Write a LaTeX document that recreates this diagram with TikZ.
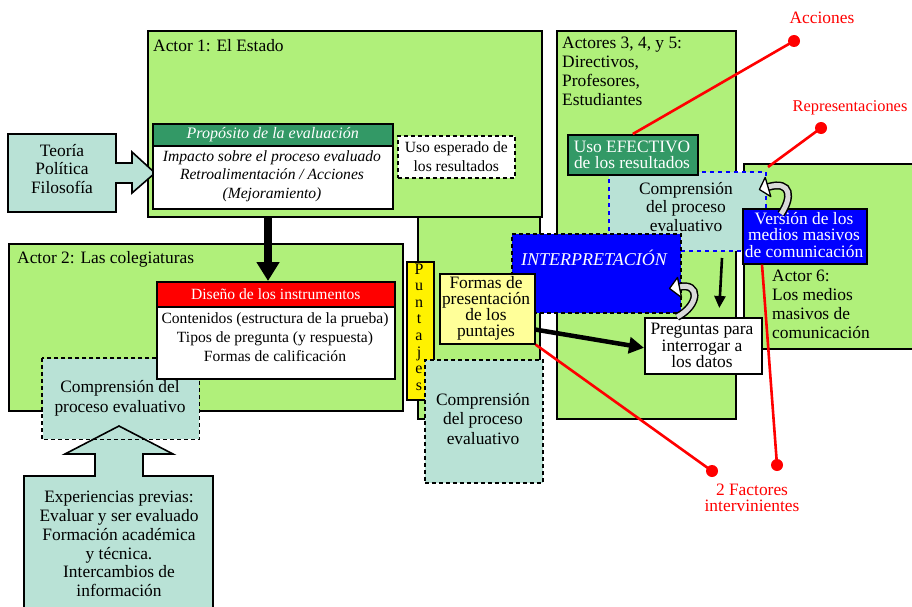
\documentclass[tikz,border=0pt]{standalone}
\usepackage{fontspec}
\setmainfont{Liberation Serif}
\usetikzlibrary{arrows.meta,calc}
\definecolor{cgreen}{RGB}{176,240,122}
\definecolor{cteal}{RGB}{185,226,214}
\definecolor{cdark}{RGB}{51,153,102}
\definecolor{cyel}{RGB}{255,255,153}
\definecolor{cred}{RGB}{255,0,0}
\definecolor{cblue}{RGB}{0,0,255}
\newcommand\fsa{\fontsize{17.4}{18.8}\selectfont}
\newcommand\fsb{\fontsize{17.4}{16.2}\selectfont}
\newcommand\fsc{\fontsize{15.6}{18.7}\selectfont}
\newcommand\fsd{\fontsize{17.4}{19.8}\selectfont}
\begin{document}
\begin{tikzpicture}[x=1pt,y=-1pt,
  box/.style={draw=black, line width=1.6pt, anchor=north west, inner sep=0pt},
  dashbox/.style={box, dash pattern=on 4pt off 3pt},
  txt/.style={align=center, inner sep=0pt, font=\fsa},
  txtb/.style={align=center, inner sep=0pt, font=\fsb},
  txtc/.style={align=center, inner sep=0pt, font=\fsc},
  txtd/.style={align=center, inner sep=0pt, font=\fsd},
  ltxt/.style={align=left, inner sep=0pt, font=\fsa, anchor=west},
  redline/.style={draw=cred, line width=2.6pt},
  reddot/.style={circle, fill=cred, minimum size=12pt, inner sep=0pt},
  redtxt/.style={align=center, inner sep=0pt, font=\fsb, text=cred},
  curlband/.style={line width=8pt, black},
  curlfill/.style={line width=5pt, gray!30},
  curlhead/.style={fill=white, draw=black, line width=1.3pt, line join=round}
]
\useasboundingbox (0,0) rectangle (912,607);
\clip (0,0) rectangle (912,607);
\fill[white] (0,0) rectangle (912,607);

% green actor boxes
\node[box, fill=cgreen, minimum width=122pt, minimum height=202pt] (gb) at (417,216) {};
\node[box, fill=cgreen, minimum width=394pt, minimum height=186pt] (a1) at (147,30) {};
\node[box, fill=cgreen, minimum width=394pt, minimum height=167pt] (a2) at (8,243) {};
\node[box, fill=cgreen, minimum width=179pt, minimum height=388pt] (a3) at (556,30) {};
\node[box, fill=cgreen, minimum width=200pt, minimum height=185pt] (a6) at (743,163) {};
\node[ltxt] (a1t) at (153,46) {Actor 1: El Estado};
\node[ltxt] (a2t) at (17,259) {Actor 2: Las colegiaturas};
\node[ltxt, anchor=north west, font=\fontsize{17.4}{19}\selectfont] (a3t) at (562,37) {Actores 3, 4, y 5:\\Directivos,\\Profesores,\\Estudiantes};
\node[ltxt, anchor=north west] (a6t) at (772,270) {Actor 6:\\Los medios\\masivos de\\comunicación};

% Teoria arrow
\filldraw[fill=cteal, draw=black, line width=1.6pt, line join=miter]
  (8,134) -- (116,134) -- (116,163) -- (132,163) -- (132,152) -- (155,173) -- (132,193)
  -- (132,183) -- (116,183) -- (116,212) -- (8,212) -- cycle;
\node[txt] (teo) at (62,169) {Teoría\\Política\\Filosofía};

% Proposito
\node[box, fill=white, minimum width=240pt, minimum height=85pt] (prop) at (152,123) {};
\node[box, fill=cdark, minimum width=240pt, minimum height=22pt] (proph) at (152,123) {};
\node[txtc, text=white, font=\fontsize{16}{18}\selectfont\itshape] at (proph.center) {Propósito de la evaluación};
\node[txtc, font=\fsc\itshape] (propb) at (272,176) {Impacto sobre el proceso evaluado\\Retroalimentación / Acciones\\(Mejoramiento)};
\node[dashbox, fill=white, minimum width=117pt, minimum height=42pt] (usoe) at (397,135) {};
\node[txtc] at (usoe.center) {Uso esperado de\\los resultados};

% big arrow
\coordinate (bigtop) at (268,216);
\draw[line width=8pt, -{Triangle[length=19pt,width=22pt]}] (bigtop) -- (bigtop |- 0,281);

% left comprension + experiencias
\node[box, draw=none, fill=cteal, minimum width=156pt, minimum height=80pt] (cl) at (42,358) {};
\filldraw[fill=cteal, draw=black, line width=1.6pt, line join=miter]
  (24,620) -- (24,476) -- (95,476) -- (95,454) -- (65,454) -- (119,426) -- (173,454)
  -- (143,454) -- (143,476) -- (213,476) -- (213,620) -- cycle;
\draw[line width=1.6pt, dash pattern=on 4pt off 3pt] (cl.north west) rectangle (cl.south east);
\node[txtd] (clt) at (120,398) {Comprensión del\\proceso evaluativo};
\node[txt] (exp) at (119,544) {Experiencias previas:\\Evaluar y ser evaluado\\Formación académica\\y técnica.\\Intercambios de\\información};

% Diseno
\node[box, fill=white, minimum width=238pt, minimum height=97pt] (dis) at (156,281) {};
\node[box, fill=cred, minimum width=238pt, minimum height=25pt] (dish) at (156,281) {};
\node[txtc, text=white] at (dish.center) {Diseño de los instrumentos};
\node[txtc] (disb) at (275,337) {Contenidos (estructura de la prueba)\\Tipos de pregunta (y respuesta)\\Formas de calificación};

% Puntajes + middle comprension
\node[box, fill=yellow, minimum width=27pt, minimum height=138pt] (pun) at (406,261) {};
\node[txt, font=\fontsize{16}{16.6}\selectfont] at (419,327) {P\\u\\n\\t\\a\\j\\e\\s};
\node[dashbox, fill=cteal, minimum width=118pt, minimum height=123pt] (cm) at (424,359) {};
\node[txtd] at (483,419) {Comprensión\\del proceso\\evaluativo};

% right comprension
\node[box, draw=cblue, dash pattern=on 4pt off 4pt, fill=cteal, minimum width=157pt, minimum height=79pt] (cr) at (608,171) {};
\node[txt] (crt) at (686,207) {Comprensión\\del proceso\\evaluativo};

% Uso efectivo
\node[box, fill=cdark, minimum width=130pt, minimum height=40pt] (uso) at (567,134) {};
\node[txtb, text=white] at (632,155) {Uso EFECTIVO\\de los resultados};

% Interpretacion
\node[dashbox, fill=cblue, minimum width=169pt, minimum height=79pt] (int) at (511,233) {};
\node[txt, text=white, font=\fontsize{18}{20}\selectfont\itshape] at (594,258) {INTERPRETACIÓN};

% Formas
\node[box, fill=cyel, minimum width=95pt, minimum height=70pt] (for) at (439,273) {};
\node[txtb] at (486,308.5) {Formas de\\presentación\\de los\\puntajes};

% Version
\node[box, fill=cblue, minimum width=124pt, minimum height=55pt] (ver) at (742,208) {};
\node[txtb, text=white] at (804,235) {Versión de los\\medios masivos\\de comunicación};

% Preguntas
\node[box, fill=white, minimum width=117pt, minimum height=56pt] (pre) at (644,317) {};
\node[txtb] at (702,345.5) {Preguntas para\\interrogar a\\los datos};

% black arrows
\draw[line width=4.5pt, -{Triangle[length=15pt,width=16pt]}] ($(for.south east)+(0,-15)$) -- ($(pre.west)+(0,2)$);
\coordinate (dtop) at (722,258);
\draw[line width=2.6pt, -{Triangle[length=12pt,width=11pt]}] (dtop) -- ($(pre.north)+(16,-9)$);

% curly arrows
\coordinate (c1t) at (781,214);
\draw[curlband] (c1t) .. controls (792,198) and (792,180) .. (768,187);
\draw[curlfill] (c1t) .. controls (792,198) and (792,180) .. (768,187);
\draw[curlhead] (759.4,189.5) -- (770.8,196.6) -- (765.2,177.4) -- cycle;
\coordinate (c2t) at (677,317);
\draw[curlband] (c2t) .. controls (700,305) and (700,282) .. (679,287);
\draw[curlfill] (c2t) .. controls (700,305) and (700,282) .. (679,287);
\draw[curlhead] (669.5,288.5) -- (681.5,297.5) -- (677.5,277.5) -- cycle;

% red annotations
\node[reddot] (d1) at (794,41) {};
\node[reddot] (d2) at (821,128) {};
\node[reddot] (d3) at (712,471) {};
\node[reddot] (d4) at (777,465) {};
\coordinate (rep) at (768,167);
\draw[redline] (uso.north) -- (d1.center);
\draw[redline] (rep) -- (d2.center);
\draw[redline] (for.south east) -- (d3.center);
\draw[redline] ($(ver.south west)+(20,0)$) -- (d4.center);
\node[redtxt] (acc) at (822,18) {Acciones};
\node[redtxt, font=\fontsize{16.4}{16.2}\selectfont] (rept) at (850,108) {Representaciones};
\node[redtxt] (fac) at (752,498) {2 Factores\\intervinientes};
\end{tikzpicture}
\end{document}
